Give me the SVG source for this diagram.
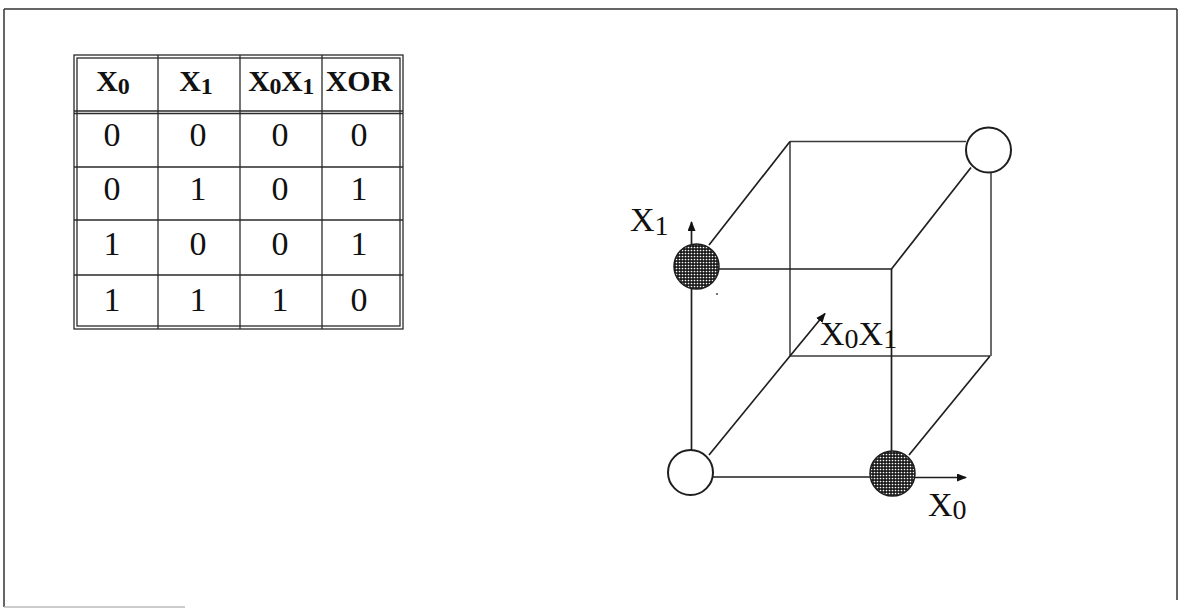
<svg xmlns="http://www.w3.org/2000/svg" width="1184" height="613" viewBox="0 0 1184 613">
  <style>
    .frame { stroke: #333; stroke-width: 1.5; fill: none; }
    .grid { stroke: #2a2a2a; stroke-width: 1.3; fill: none; }
    .hdr { font-family: "Liberation Serif", "Times New Roman", serif; font-weight: bold; font-size: 30px; fill: #111; text-anchor: middle; }
    .cell { font-family: "Liberation Serif", "Times New Roman", serif; font-size: 34px; fill: #111; text-anchor: middle; }
    .axis { font-family: "Liberation Serif", "Times New Roman", serif; font-size: 34px; fill: #111; }
    .sub { font-size: 28px; }
    .hsub { font-size: 24px; }
    .edge { stroke: #1e1e1e; stroke-width: 1.7; fill: none; }
    .back { stroke: #3a3a3a; stroke-width: 1.5; fill: none; }
    .open { fill: #fff; stroke: #1e1e1e; stroke-width: 2; }
    .dark { fill: url(#dots); stroke: #1e1e1e; stroke-width: 1.5; }
  </style>
  <defs>
    <pattern id="dots" width="3" height="3" patternUnits="userSpaceOnUse">
      <rect width="3" height="3" fill="#1a1a1a"/>
      <circle cx="1.5" cy="1.5" r="0.85" fill="#fff"/>
    </pattern>
    <marker id="arrow" markerWidth="10" markerHeight="8" refX="9" refY="4" orient="auto" markerUnits="userSpaceOnUse">
      <path d="M0,0 L10,4 L0,8 Z" fill="#111"/>
    </marker>
  </defs>

  <rect width="1184" height="613" fill="#fff"/>

  <!-- outer frame -->
  <g id="frame">
    <line class="frame" x1="4" y1="9" x2="1177" y2="9"/>
    <line class="frame" x1="4" y1="9" x2="4" y2="607"/>
    <line class="frame" x1="1177" y1="9" x2="1177" y2="600"/>
    <line x1="4" y1="607" x2="185" y2="607" stroke="#bbb" stroke-width="1.5"/>
  </g>

  <!-- truth table -->
  <g id="truth-table">
    <rect class="grid" x="74" y="55" width="329" height="274" stroke-width="1.6"/>
    <rect class="grid" x="77" y="58" width="323" height="268" stroke-width="1"/>
    <line class="grid" x1="74" y1="111" x2="403" y2="111" stroke-width="1.2"/>
    <line class="grid" x1="74" y1="113.5" x2="403" y2="113.5" stroke-width="1.2"/>
    <line class="grid" x1="74" y1="167" x2="403" y2="167"/>
    <line class="grid" x1="74" y1="220" x2="403" y2="220"/>
    <line class="grid" x1="74" y1="275" x2="403" y2="275"/>
    <line class="grid" x1="158" y1="55" x2="158" y2="329"/>
    <line class="grid" x1="240" y1="55" x2="240" y2="329"/>
    <line class="grid" x1="322" y1="55" x2="322" y2="329"/>

    <text class="hdr" x="113" y="91">X<tspan class="hsub" dy="3">0</tspan></text>
    <text class="hdr" x="196" y="91">X<tspan class="hsub" dy="3">1</tspan></text>
    <text class="hdr" x="281" y="91" letter-spacing="-0.5">X<tspan class="hsub" dy="3">0</tspan><tspan dy="-3">X</tspan><tspan class="hsub" dy="3">1</tspan></text>
    <text class="hdr" x="359" y="91">XOR</text>

    <text class="cell" x="112" y="146">0</text>
    <text class="cell" x="198" y="146">0</text>
    <text class="cell" x="280" y="146">0</text>
    <text class="cell" x="359" y="146">0</text>

    <text class="cell" x="112" y="200">0</text>
    <text class="cell" x="198" y="200">1</text>
    <text class="cell" x="280" y="200">0</text>
    <text class="cell" x="359" y="200">1</text>

    <text class="cell" x="112" y="255">1</text>
    <text class="cell" x="198" y="255">0</text>
    <text class="cell" x="280" y="255">0</text>
    <text class="cell" x="359" y="255">1</text>

    <text class="cell" x="112" y="311">1</text>
    <text class="cell" x="198" y="311">1</text>
    <text class="cell" x="280" y="311">1</text>
    <text class="cell" x="359" y="311">0</text>
  </g>

  <!-- cube edges and axes -->
  <g id="connectors">
    <!-- back face -->
    <line class="back" x1="790" y1="141.5" x2="966" y2="141.5"/>
    <line class="back" x1="790" y1="141.5" x2="790" y2="356"/>
    <line class="back" x1="790" y1="356" x2="990" y2="356"/>
    <line class="back" x1="991" y1="172.5" x2="991" y2="356"/>
    <!-- front face -->
    <line class="edge" x1="719" y1="269" x2="891.5" y2="269"/>
    <line class="edge" x1="891.5" y1="269" x2="891.5" y2="451"/>
    <line class="edge" x1="691.5" y1="289" x2="691.5" y2="450"/>
    <line class="edge" x1="713" y1="477" x2="870" y2="477"/>
    <!-- depth edges -->
    <line class="edge" x1="709" y1="245" x2="790" y2="141.5"/>
    <line class="edge" x1="891.5" y1="269" x2="971" y2="167.5"/>
    <line class="edge" x1="709" y1="455" x2="790" y2="356"/>
    <line class="edge" x1="909" y1="455" x2="990" y2="356"/>
    <!-- axes -->
    <line class="edge" x1="691.5" y1="244" x2="691.5" y2="222" marker-end="url(#arrow)"/>
    <line class="edge" x1="914" y1="477.5" x2="966" y2="477.5" marker-end="url(#arrow)"/>
    <line class="edge" x1="790" y1="356" x2="825" y2="313.5" marker-end="url(#arrow)"/>
    <circle cx="717" cy="294" r="0.9" fill="#333"/>
  </g>

  <!-- cube vertices -->
  <g id="node-000"><circle class="open" cx="690.5" cy="472.5" r="22.5"/></g>
  <g id="node-100"><circle class="dark" cx="892.5" cy="473.5" r="22.5"/></g>
  <g id="node-010"><circle class="dark" cx="696.5" cy="266.5" r="22.5"/></g>
  <g id="node-111"><circle class="open" cx="988.5" cy="150" r="22.5"/></g>

  <!-- axis labels -->
  <g id="axis-labels">
    <text class="axis" x="630" y="231">X<tspan class="sub" dy="4">1</tspan></text>
    <text class="axis" x="928" y="516">X<tspan class="sub" dy="3">0</tspan></text>
    <text class="axis" x="820" y="345">X<tspan class="sub" dy="3">0</tspan><tspan dy="-3">X</tspan><tspan class="sub" dy="3">1</tspan></text>
  </g>
</svg>
